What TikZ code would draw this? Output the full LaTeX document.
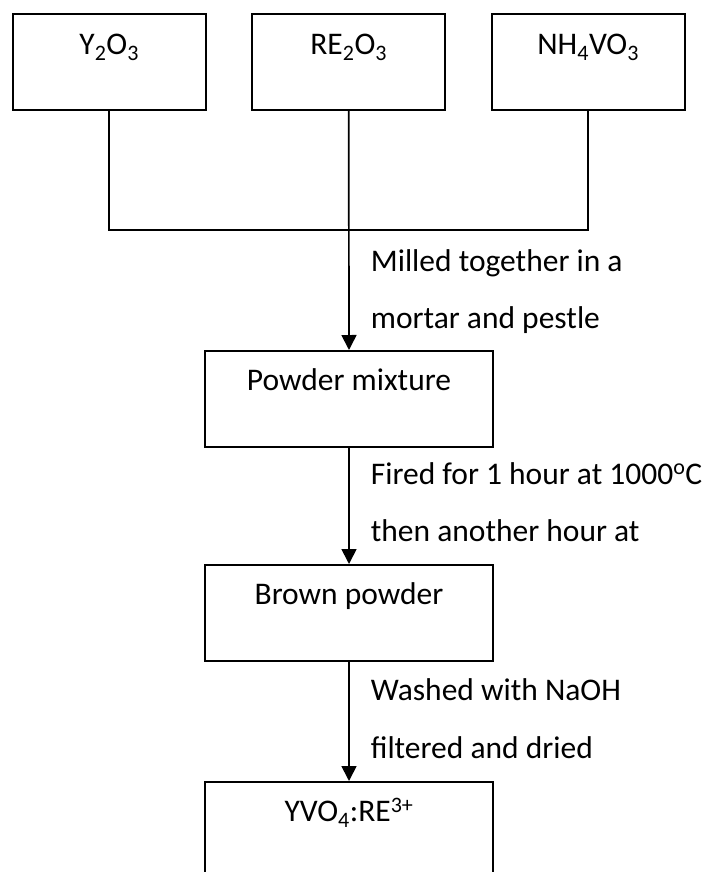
\documentclass[tikz,border=0pt]{standalone}
\usepackage{fontspec}
\setmainfont{Carlito}
\usetikzlibrary{arrows.meta}

\begin{document}
\begin{tikzpicture}[x=1pt, y=-1pt, line width=1.7pt,
        font=\fontsize{31.5}{38}\selectfont,
        topbox/.style={draw, anchor=north, inner sep=0pt, minimum width=193pt, text height=41pt, text depth=55pt},
        stepbox/.style={draw, anchor=north, inner sep=0pt, minimum width=288pt, text height=40pt, text depth=56pt},
        note/.style={anchor=base west, inner sep=0pt},
        flow/.style={-{Triangle[width=15pt, length=15pt]}}]
        \useasboundingbox (0,0) rectangle (709,872);

        % Starting materials
        \node[topbox] (yox) at (109.2,13) {Y\textsubscript{2}O\textsubscript{3}};
        \node[topbox] (reox) at (348.7,13) {RE\textsubscript{2}O\textsubscript{3}};
        \node[topbox] (vanad) at (588.2,13) {NH\textsubscript{4}VO\textsubscript{3}};

        % Steps
        \node[stepbox] (mixture) at (349,350) {Powder mixture};
        \node[stepbox] (brown) at (349,564) {Brown powder};
        \node[stepbox] (product) at (349,781) {YVO\textsubscript{4}:RE\textsuperscript{3+}};

        % Connectors
        \coordinate (join) at (reox.south |- 0,230);
        \draw (yox.south) |- (join) -| (vanad.south);
        \draw[flow] (reox.south) -- (mixture.north);
        \draw[flow] (mixture.south) -- (brown.north);
        \draw[flow] (brown.south) -- (product.north);

        % Notes
        \node[note] (mill1) at (370,271) {Milled together in a};
        \node[note] (mill2) at (370,328) {mortar and pestle};
        \node[note] (fire1) at (370,484) {Fired for 1 hour at 1000\textsuperscript{o}C};
        \node[note] (fire2) at (370,541.7) {then another hour at};
        \node[note] (wash1) at (370,700.7) {Washed with NaOH};
        \node[note] (wash2) at (370,758) {filtered and dried};
    \end{tikzpicture}
\end{document}
